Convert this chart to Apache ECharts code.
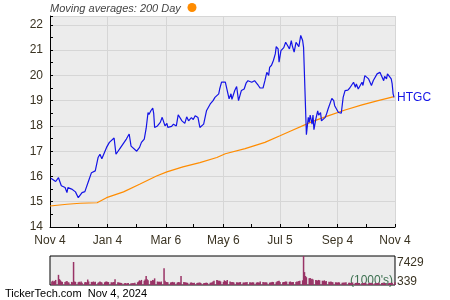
<!DOCTYPE html>
<html><head><meta charset="utf-8">
<script src="https://cdn.jsdelivr.net/npm/echarts/dist/echarts.min.js"></script>
<style>html,body{margin:0;padding:0;background:#fff}#c{width:450px;height:300px}</style>
</head><body><div id="c"></div>
<script>
// ---- data (day offsets from Nov 4, 2023) ----
const startDate = Date.UTC(2023, 10, 4);
const totalDays = 367;
const xTickDays = [0, 61, 123, 184, 244, 305, 366];
const xTickLabels = ['Nov 4', 'Jan 4', 'Mar 6', 'May 6', 'Jul 5', 'Sep 4', 'Nov 4'];
const xMinorDays = [30, 92, 152, 213, 274, 335];

const priceDay = [1,3,6,9,12,16,18,19,23,27,30,34,37,41,44,48,51,53,55,57,60,63,65,68,70,72,75,77,81,84,86,88,92,95,97,100,102,104,105,107,109,110,111,114,117,119,122,124,125,129,131,134,136,140,141,143,145,147,150,152,154,157,159,161,163,166,170,173,175,177,179,180,182,186,188,190,192,193,196,198,200,202,203,206,208,210,214,217,219,221,223,226,228,230,232,233,235,237,239,240,242,243,245,248,250,252,254,256,257,259,261,263,264,266,268,269,272,274,275,276,278,279,280,282,284,285,287,288,290,292,293,295,297,299,301,302,304,306,308,309,311,313,315,316,318,320,322,324,325,327,329,331,332,334,336,338,339,341,343,345,347,348,350,352,354,355,357,358,360,362,363,364,365];
const priceVal = [15.93,15.98,15.80,15.95,15.63,15.56,15.36,15.56,15.50,15.39,15.16,15.36,15.40,15.83,16.15,16.22,16.75,16.88,16.70,16.67,17.15,17.35,17.35,17.52,16.88,16.88,17.15,17.22,17.48,17.68,17.20,17.15,17.00,17.15,17.35,17.48,17.90,18.53,18.45,18.60,18.70,18.50,17.94,18.00,18.14,18.34,18.00,18.10,17.94,17.98,18.07,18.00,18.44,18.20,18.27,18.10,18.36,18.20,18.33,18.25,18.40,18.33,17.94,17.88,18.07,18.60,18.87,19.00,19.13,19.20,19.27,19.46,19.73,19.73,19.66,19.07,19.27,19.05,19.40,19.56,19.00,19.27,19.40,19.46,19.69,19.79,19.73,19.79,19.79,19.60,19.50,19.50,19.79,20.12,20.00,20.32,20.40,20.59,20.85,21.14,21.05,20.52,20.98,21.10,21.31,21.18,21.05,21.38,21.18,20.92,21.31,21.38,21.14,21.58,21.38,21.11,17.65,18.34,18.14,18.43,18.07,18.43,17.85,18.27,18.60,18.43,18.53,18.20,18.27,18.34,18.43,18.67,18.73,19.09,19.00,18.80,18.86,18.53,18.47,18.50,19.13,19.40,19.46,19.42,19.50,19.46,19.73,19.53,19.66,19.46,19.50,19.73,19.60,19.99,20.06,19.86,19.93,19.60,19.80,19.86,20.06,20.10,20.12,20.06,19.79,19.96,19.86,20.06,20.00,19.86,19.66,19.27,19.13];

const maDay = [0,18,32,50,60,78,95,113,124,141,159,177,186,207,228,244,256,272,278,295,313,331,348,365];
const maVal = [14.83,14.90,14.94,14.96,15.16,15.39,15.69,16.02,16.18,16.38,16.55,16.75,16.90,17.10,17.35,17.61,17.81,18.07,18.17,18.40,18.63,18.83,19.00,19.16];

// volume (1000's), weekdays Mon-Fri starting Mon Nov 6, 2023
const volume = [
 900,1100,850,1000,1300,  2600,1500,1200,900,800,  750,900,1000,700,650,  800,700,5900,900,800,
 700,850,650,900,600,  700,800,650,1400,900,  800,750,900,700,850,  600,700,900,800,650,
 700,850,900,800,750,  700,600,750,800,1500,  700,650,600,550,500,  450,500,339,450,500,
 450,400,500,450,600,  700,900,1200,1000,1300,  1100,1400,2300,1500,1200,  1100,1000,1300,1200,1700,
 900,800,850,700,900,  4300,1100,800,750,700,  650,700,800,650,700,  600,750,700,650,2300,
 800,700,650,600,550,  600,650,550,500,600,  500,550,600,650,500,  450,500,550,600,500,
 550,600,700,900,1100,  1300,1200,1000,1100,900,  800,1200,1000,900,1300,  900,800,700,750,650,
 700,650,600,700,750,  650,600,700,650,800,  700,650,600,700,650,  600,700,650,600,900,
 800,700,650,700,650,  600,650,700,800,750,  700,900,1000,1100,800,  700,750,800,900,850,
 800,900,700,750,800,  750,900,850,1000,1100,  1200,7429,3300,2300,2000,  1700,1800,1500,1600,1400,
 1300,1200,1100,1300,1200,  1100,1000,1200,900,1000,  850,800,900,750,700,  700,650,600,700,650,
 600,550,650,600,700,  550,600,500,550,650,  500,550,600,500,450,  500,450,500,550,500,
 450,500,550,450,500,  500,450,400,500,550,  500,550,450,500,400,  450,500,550,500,600,
 700
];
const volMax = 7429, volMin = 339;

// ---- build ----
const MON = ['Jan','Feb','Mar','Apr','May','Jun','Jul','Aug','Sep','Oct','Nov','Dec'];
const cats = [];
for (let i = 0; i < totalDays; i++) {
  const d = new Date(startDate + i * 86400000);
  cats.push(MON[d.getUTCMonth()] + ' ' + d.getUTCDate());
}
const majorSet = new Set(xTickDays);
const tickSet = new Set(xTickDays.concat(xMinorDays));
const labelMap = {};
xTickDays.forEach((d, i) => labelMap[d] = xTickLabels[i]);
const volData = volume.map((v, i) => [2 + Math.floor(i / 5) * 7 + (i % 5), v]);

const FONT = 'Liberation Sans, Arial, sans-serif';
const TXT = '#3a3322';
const chart = echarts.init(document.getElementById('c'), null, {renderer: 'canvas'});
chart.setOption({
  animation: false,
  textStyle: {fontFamily: FONT},
  grid: [
    {left: 50, top: 16, width: 345, height: 211, show: true, backgroundColor: '#ececec', borderWidth: 0},
    {left: 50, top: 256, width: 345, height: 29, show: true, backgroundColor: '#ececec', borderColor: '#000', borderWidth: 1}
  ],
  xAxis: [
    {type: 'category', gridIndex: 0, data: cats, boundaryGap: false,
     axisLine: {lineStyle: {color: '#000', width: 1}},
     axisTick: {inside: true, length: 3, interval: (i) => tickSet.has(i), lineStyle: {color: '#000'}},
     axisLabel: {interval: (i) => majorSet.has(i), formatter: (v, i) => labelMap[i] || '', color: TXT, fontSize: 12, margin: 8, fontFamily: FONT, hideOverlap: false},
     splitLine: {show: true, interval: (i) => majorSet.has(i) && i > 0, lineStyle: {color: '#d6d6d6', width: 1}}},
    {type: 'category', gridIndex: 1, data: cats, boundaryGap: false, show: false}
  ],
  yAxis: [
    {type: 'value', gridIndex: 0, min: 14, max: 22.35, interval: 1,
     axisLine: {show: true, lineStyle: {color: '#000', width: 1}},
     axisTick: {show: true, inside: true, length: 3, lineStyle: {color: '#000'}},
     minorTick: {show: true, splitNumber: 2, length: 3, lineStyle: {color: '#000'}},
     axisLabel: {color: TXT, fontSize: 12, margin: 7, fontFamily: FONT, showMaxLabel: false},
     splitLine: {show: true, lineStyle: {color: '#d6d6d6', width: 1}}},
    {type: 'value', gridIndex: 1, min: 0, max: volMax, show: false}
  ],
  series: [
    {type: 'line', name: '200 Day', xAxisIndex: 0, yAxisIndex: 0, data: maDay.map((d, i) => [d, maVal[i]]),
     showSymbol: false, lineStyle: {color: '#ff8c00', width: 1.2}, z: 2},
    {type: 'line', name: 'HTGC', xAxisIndex: 0, yAxisIndex: 0, data: priceDay.map((d, i) => [d, priceVal[i]]),
     showSymbol: false, lineStyle: {color: '#1414e6', width: 1.2}, z: 3,
     endLabel: {show: true, formatter: 'HTGC', color: '#1414e6', fontSize: 12, distance: 3, fontFamily: FONT}},
    {type: 'bar', name: 'Volume', xAxisIndex: 1, yAxisIndex: 1, data: volData, barWidth: 1.5,
     itemStyle: {color: '#993366'}}
  ],
  graphic: [
    {type: 'text', left: 50, top: 3, style: {text: 'Moving averages: 200 Day', font: 'italic 11px ' + FONT, fill: '#444'}},
    {type: 'circle', shape: {cx: 192, cy: 7.5, r: 4.5}, style: {fill: '#ff8c00'}},
    {type: 'text', x: 397, y: 263, style: {text: String(volMax), font: '12px ' + FONT, fill: TXT, verticalAlign: 'middle'}},
    {type: 'text', x: 397, y: 281.5, style: {text: String(volMin), font: '12px ' + FONT, fill: TXT, verticalAlign: 'middle'}},
    {type: 'text', x: 393, y: 280.5, style: {text: "(1000's)", font: '12px ' + FONT, fill: '#3c7050', align: 'right', verticalAlign: 'middle'}},
    {type: 'text', x: 5, y: 294, style: {text: 'TickerTech.com  Nov 4, 2024', font: '11px ' + FONT, fill: '#000', verticalAlign: 'middle'}}
  ]
});
</script></body></html>
